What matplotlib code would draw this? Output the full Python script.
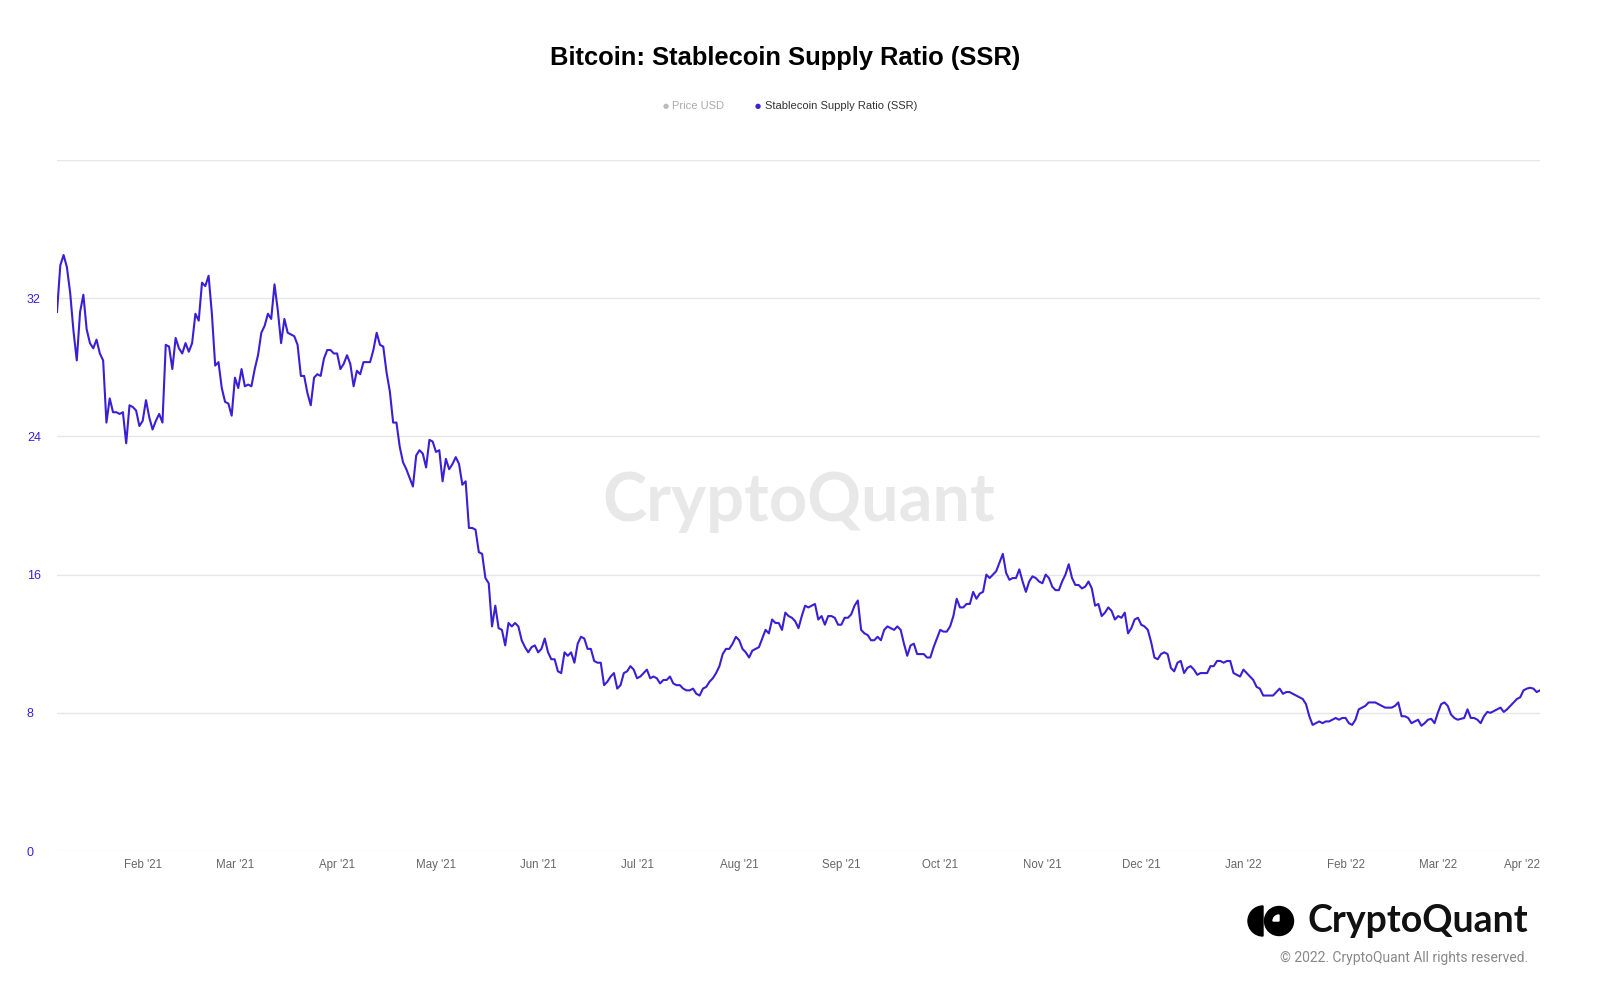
import matplotlib
matplotlib.use('agg')
import matplotlib.pyplot as plt
from matplotlib.patches import Circle, Wedge
import pandas as pd

# daily SSR values, starting 2021-01-06
start_date = '2021-01-06'
ssr = [
    31.2, 33.9, 34.5, 33.8, 32.3, 30.1, 28.4, 31.2, 32.2, 30.2, 29.4, 29.1, 29.6, 28.8, 28.4, 24.8,
    26.2, 25.4, 25.4, 25.3, 25.4, 23.6, 25.8, 25.7, 25.5, 24.6, 24.9, 26.1, 25.1, 24.4, 24.9, 25.3,
    24.8, 29.3, 29.2, 27.9, 29.7, 29.1, 28.8, 29.4, 28.9, 29.4, 31.1, 30.7, 32.9, 32.7, 33.3, 31.1,
    28.1, 28.3, 26.8, 26.0, 25.9, 25.2, 27.4, 26.8, 27.9, 26.9, 27.0, 26.9, 27.9, 28.7, 30.0, 30.4,
    31.1, 30.8, 32.8, 31.3, 29.4, 30.8, 30.0, 29.9, 29.8, 29.3, 27.5, 27.5, 26.5, 25.8, 27.4, 27.6,
    27.5, 28.5, 29.0, 29.0, 28.8, 28.8, 27.9, 28.2, 28.7, 28.2, 26.9, 27.8, 27.6, 28.3, 28.3, 28.3,
    29.0, 30.0, 29.3, 29.2, 27.7, 26.6, 24.8, 24.8, 23.4, 22.5, 22.1, 21.6, 21.1, 22.9, 23.2, 23.0,
    22.2, 23.8, 23.7, 23.1, 23.2, 21.4, 22.7, 22.1, 22.4, 22.8, 22.4, 21.2, 21.4, 18.7, 18.7, 18.6,
    17.3, 17.2, 15.8, 15.5, 13.0, 14.2, 12.9, 12.8, 11.9, 13.2, 13.0, 13.2,
    13.0, 12.2, 11.8, 11.5, 11.8, 11.9, 11.5, 11.7, 12.3, 11.5, 11.1, 11.1, 10.4, 10.3, 11.5, 11.3,
    11.5, 10.9, 12.0, 12.4, 12.3, 11.7, 11.7, 11.0, 10.9, 10.9, 9.6, 9.8, 10.1, 10.3, 9.4, 9.6,
    10.3, 10.4,
    10.7, 10.5, 10.0, 10.1, 10.3, 10.5, 10.0, 10.1, 10.0, 9.7, 9.9, 9.9, 10.1, 9.7, 9.6, 9.6,
    9.4, 9.3, 9.3, 9.4, 9.1, 9.0, 9.4, 9.5, 9.8, 10.0, 10.3, 10.7, 11.4, 11.7, 11.7, 12.0,
    12.4, 12.2, 11.7, 11.5, 11.2, 11.6, 11.7,
    11.8, 12.3, 12.8, 12.6, 13.4, 13.2, 13.2, 12.8, 13.8, 13.6, 13.5, 13.3, 12.9, 13.6, 14.2, 14.1,
    14.2, 14.3, 13.4, 13.6, 13.1, 13.6, 13.6, 13.5, 13.1, 13.1, 13.5, 13.5, 13.7, 14.2, 14.5,
    12.8, 12.6, 12.5, 12.2, 12.2, 12.4, 12.2, 12.8, 13.0, 12.9, 12.8, 13.0, 12.8, 12.0, 11.3, 11.9,
    12.0, 11.4, 11.4, 11.4, 11.2, 11.2, 11.8, 12.3, 12.8, 12.7, 12.7, 13.0, 13.6, 14.6, 14.1, 14.1,
    14.3, 14.3, 15.0, 14.6, 14.9, 15.0, 16.0, 15.8,
    16.0, 16.2, 16.7, 17.2, 16.1, 15.7, 15.8, 15.8, 16.3, 15.6, 15.0, 15.6, 15.9, 15.8, 15.6, 15.5,
    16.0, 15.8, 15.3, 15.1, 15.1, 15.6, 16.0, 16.6, 15.8, 15.4, 15.4, 15.2, 15.3, 15.6, 15.2, 14.2,
    14.3, 13.6, 13.8, 14.1, 13.9,
    13.4, 13.6, 13.5, 13.8, 12.6, 12.9, 13.4, 13.5, 13.1, 13.0, 12.8, 12.1, 11.2, 11.1, 11.4, 11.5,
    11.4, 10.6, 10.4, 10.9, 11.0, 10.3, 10.6, 10.7, 10.5, 10.2, 10.3, 10.3, 10.3, 10.7, 10.7, 11.0,
    11.0, 10.9, 11.0, 11.0,
    10.3, 10.2, 10.1, 10.5, 10.3, 10.1, 9.9, 9.5, 9.4, 9.0, 9.0, 9.0, 9.0, 9.2, 9.4, 9.1,
    9.2, 9.2, 9.1, 9.0, 8.9, 8.8, 8.5, 7.8, 7.3, 7.4, 7.5, 7.4, 7.5, 7.5, 7.6, 7.7,
    7.6, 7.7, 7.7, 7.4, 7.3, 7.6, 8.2, 8.3, 8.4,
    8.6, 8.6, 8.6, 8.5, 8.4, 8.3, 8.3, 8.3, 8.4, 8.6, 7.8, 7.8, 7.7, 7.4, 7.5, 7.6,
    7.25, 7.4, 7.6, 7.65, 7.4, 8.0, 8.5, 8.6, 8.4, 7.9, 7.7, 7.6, 7.65, 7.7, 8.2, 7.7,
    7.7, 7.6, 7.4, 7.8, 8.05, 8.0, 8.1, 8.2, 8.3, 8.05, 8.2, 8.4, 8.6, 8.8, 8.9, 9.3,
    9.4, 9.45, 9.4, 9.2, 9.3,
]

month_ticks = ['2021-02-01', '2021-03-01', '2021-04-01', '2021-05-01', '2021-06-01', '2021-07-01',
               '2021-08-01', '2021-09-01', '2021-10-01', '2021-11-01', '2021-12-01', '2022-01-01',
               '2022-02-01', '2022-03-01', '2022-04-01']
month_labels = ["Feb '21", "Mar '21", "Apr '21", "May '21", "Jun '21", "Jul '21", "Aug '21",
                "Sep '21", "Oct '21", "Nov '21", "Dec '21", "Jan '22", "Feb '22", "Mar '22", "Apr '22"]
y_ticks = [0, 8, 16, 24, 32, 40]

LINE = '#3b1fd4'
W, H = 1600, 1008
plt.rcParams['font.family'] = ['Liberation Sans', 'DejaVu Sans']

dates = pd.date_range(start_date, periods=len(ssr), freq='D')

fig = plt.figure(figsize=(W / 100, H / 100), dpi=100)
fig.patch.set_facecolor('white')

ax = fig.add_axes([57 / W, 157 / H, 1483 / W, 691 / H])
ax.plot(dates, ssr, color=LINE, lw=1.5, zorder=3)
ax.set_xlim(dates[0], dates[-1])
ax.set_ylim(0, 40)

ax.set_yticks(y_ticks)
ax.set_yticklabels([str(v) if v < 40 else '' for v in y_ticks])
ax.grid(axis='y', color='#e6e6e6', lw=1, zorder=0)
ax.set_axisbelow(True)
for s in ax.spines.values():
    s.set_visible(False)
ax.tick_params(axis='y', length=0, pad=21.6, labelsize=9, labelcolor=LINE)
for lab in ax.get_yticklabels():
    lab.set_horizontalalignment('left')

ax.set_xticks(pd.to_datetime(month_ticks))
ax.set_xticklabels(month_labels)
ax.tick_params(axis='x', length=0, pad=6, labelsize=8.3, labelcolor='#666666')
xl = ax.get_xticklabels()
xl[-1].set_horizontalalignment('right')

# watermark
ax.text(0.5, 0.505, 'CryptoQuant', transform=ax.transAxes, ha='center', va='center',
        fontsize=48, color='#e8e8e8', family='Lato', fontweight='bold', zorder=1)

# title and legend
fig.text(785 / W, 1 - 58 / H, 'Bitcoin: Stablecoin Supply Ratio (SSR)', ha='center', va='center',
         fontsize=18.4, fontweight='bold', color='#000000')
fig.text(666 / W, 1 - 106 / H, '\u25cf', ha='center', va='center', fontsize=5, color='#bbbbbb',
         family='DejaVu Sans')
fig.text(672 / W, 1 - 106 / H, 'Price USD', ha='left', va='center', fontsize=8, color='#aaaaaa')
fig.text(758 / W, 1 - 106 / H, '\u25cf', ha='center', va='center', fontsize=5, color=LINE,
         family='DejaVu Sans')
fig.text(765 / W, 1 - 106 / H, 'Stablecoin Supply Ratio (SSR)', ha='left', va='center',
         fontsize=8, color='#333333')

# logo, drawn in pixel coordinates
lg = fig.add_axes([0, 0, 1, 1], zorder=5)
lg.set_xlim(0, W)
lg.set_ylim(H, 0)
lg.axis('off')
lg.add_patch(Wedge((1263, 921), 15, 90, 270, color='black'))
lg.add_patch(Circle((1279, 921), 14.5, color='black'))
lg.add_patch(Wedge((1279, 921), 6, 180, 270, color='white'))
lg.text(1528, 921, 'CryptoQuant', ha='right', va='center', fontsize=27, family='Lato',
        fontweight='bold', color='#111111')
lg.text(1528, 958, '\u00a9 2022. CryptoQuant All rights reserved.', ha='right', va='center',
        fontsize=10, family='Roboto', color='#888888')

fig.savefig('out.png', dpi=100)
